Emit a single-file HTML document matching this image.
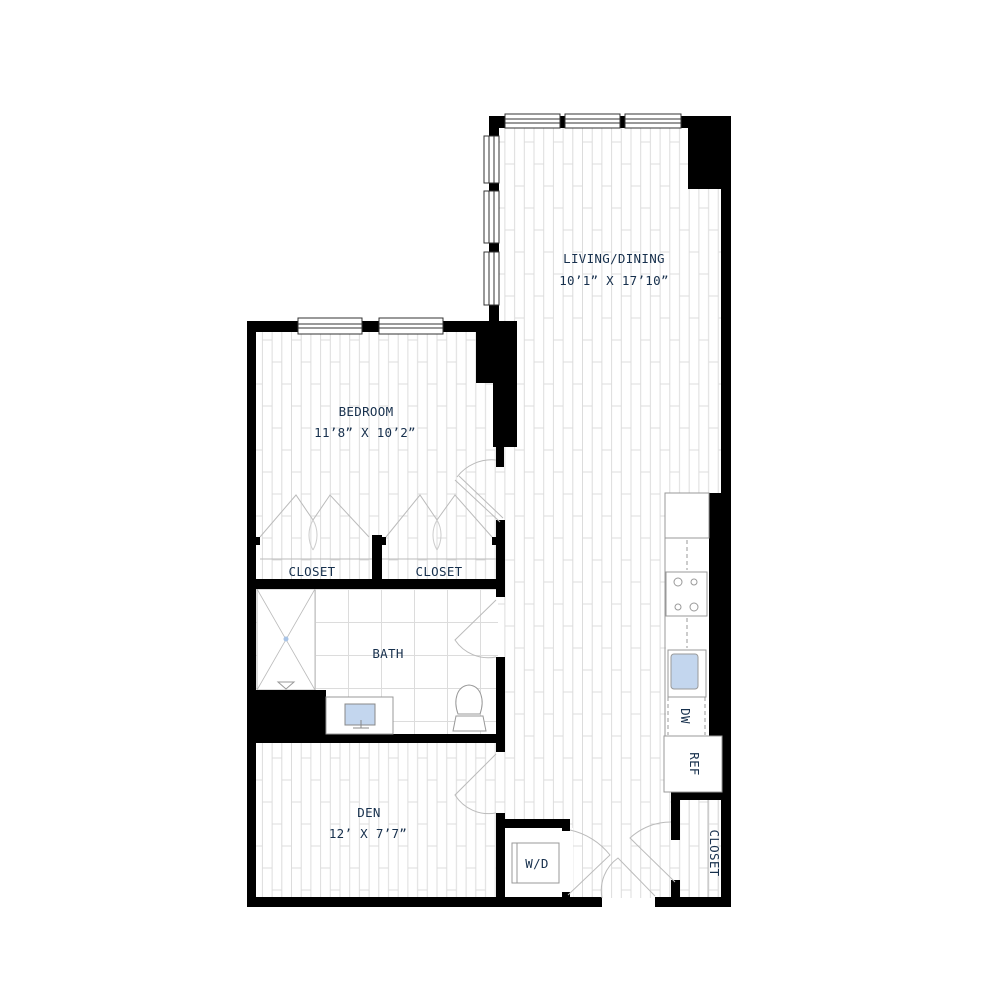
<!DOCTYPE html>
<html><head><meta charset="utf-8"><style>
html,body{margin:0;padding:0;background:#fff;}
svg{display:block}
text{font-family:"DejaVu Sans Mono","Liberation Mono",monospace;fill:#17304d;font-size:12.5px;letter-spacing:0.3px}
</style></head><body>
<svg width="1000" height="1000" viewBox="0 0 1000 1000" xmlns="http://www.w3.org/2000/svg">
<defs>
<pattern id="wood" width="29.1" height="66" patternUnits="userSpaceOnUse">
<g stroke="#dcdcdc" stroke-width="1" fill="none">
<line x1="0.5" y1="0" x2="0.5" y2="66"/>
<line x1="10.2" y1="0" x2="10.2" y2="66"/>
<line x1="19.9" y1="0" x2="19.9" y2="66"/>
<line x1="0.5" y1="10" x2="10.2" y2="10"/>
<line x1="10.2" y1="32" x2="19.9" y2="32"/>
<line x1="19.9" y1="54" x2="29.1" y2="54"/>
</g>
</pattern>
<pattern id="tile" width="33" height="33" patternUnits="userSpaceOnUse" x="315" y="589">
<path d="M0.5 0V33M0 0.5H33" stroke="#dcdcdc" fill="none"/>
</pattern>
</defs>

<rect x="498" y="128" width="223" height="770" fill="url(#wood)"/>
<rect x="256" y="331" width="242" height="258" fill="url(#wood)"/>
<rect x="256" y="743" width="242" height="155" fill="url(#wood)"/>
<rect x="505" y="828" width="68" height="70" fill="#fff"/>
<rect x="680" y="800" width="41" height="98" fill="url(#wood)"/>
<rect x="256" y="589" width="242" height="146" fill="url(#tile)"/>
<rect x="257" y="589" width="58" height="101" fill="#fff" stroke="#bbb"/>
<path d="M257 589L315 690M315 589L257 690" stroke="#bbb" stroke-width="0.8"/>
<circle cx="286" cy="639" r="2.5" fill="#a9c4e6"/>
<path d="M278 682h16l-8 7z" fill="none" stroke="#999"/>
<rect x="666" y="493" width="43" height="243" fill="#fff"/>

<g fill="#000">
<rect x="489" y="116" width="242" height="12"/>
<rect x="489" y="116" width="10" height="210"/>
<rect x="688" y="116" width="43" height="73"/>
<rect x="721" y="116" width="10" height="791"/>
<rect x="247" y="321" width="270" height="11"/>
<rect x="247" y="321" width="9" height="586"/>
<rect x="476" y="321" width="41" height="62"/>
<rect x="493" y="321" width="24" height="126"/>
<rect x="496" y="447" width="8" height="20"/>
<rect x="496" y="520" width="9" height="77"/>
<rect x="247" y="579" width="258" height="10"/>
<rect x="372" y="535" width="10" height="45"/>
<rect x="247" y="537" width="13" height="8"/>
<rect x="372" y="537" width="14" height="8"/>
<rect x="492" y="537" width="13" height="8"/>
<rect x="496" y="657" width="9" height="95"/>
<rect x="247" y="690" width="79" height="53"/>
<rect x="247" y="734" width="258" height="9"/>
<rect x="496" y="813" width="9" height="94"/>
<rect x="247" y="897" width="355" height="10"/>
<rect x="655" y="897" width="76" height="10"/>
<rect x="505" y="819" width="65" height="9"/>
<rect x="562" y="819" width="8" height="12"/>
<rect x="562" y="892" width="8" height="8"/>
<rect x="709" y="493" width="12" height="243"/>
<rect x="671" y="792" width="60" height="8"/>
<rect x="671" y="792" width="9" height="48"/>
<rect x="671" y="880" width="9" height="27"/>
</g>

<g fill="#fff" stroke="#333" stroke-width="1">
<rect x="505" y="114" width="55" height="14"/><line x1="505" y1="119" x2="560" y2="119"/><line x1="505" y1="123" x2="560" y2="123"/>
<rect x="565" y="114" width="55" height="14"/><line x1="565" y1="119" x2="620" y2="119"/><line x1="565" y1="123" x2="620" y2="123"/>
<rect x="625" y="114" width="56" height="14"/><line x1="625" y1="119" x2="681" y2="119"/><line x1="625" y1="123" x2="681" y2="123"/>
<rect x="484" y="136" width="15" height="47"/><line x1="489" y1="136" x2="489" y2="183"/><line x1="494" y1="136" x2="494" y2="183"/>
<rect x="484" y="191" width="15" height="52"/><line x1="489" y1="191" x2="489" y2="243"/><line x1="494" y1="191" x2="494" y2="243"/>
<rect x="484" y="252" width="15" height="53"/><line x1="489" y1="252" x2="489" y2="305"/><line x1="494" y1="252" x2="494" y2="305"/>
<rect x="298" y="318" width="64" height="16"/><line x1="298" y1="324" x2="362" y2="324"/><line x1="298" y1="328" x2="362" y2="328"/>
<rect x="379" y="318" width="64" height="16"/><line x1="379" y1="324" x2="443" y2="324"/><line x1="379" y1="328" x2="443" y2="328"/>
</g>

<g fill="none" stroke="#bbb" stroke-width="1">
<path d="M457 477A44 44 0 0 1 496 460"/><path d="M455 480L500 522M459 476L503 518"/>
<path d="M260 537L296 495L313 520M313 520L330 495L369 537"/>
<path d="M313 520A30 30 0 0 1 313 550M313 520A30 30 0 0 0 313 550" stroke="#ccc"/>
<path d="M386 537L420 495L437 520M437 520L455 495L492 537"/>
<path d="M437 520A30 30 0 0 1 437 550M437 520A30 30 0 0 0 437 550" stroke="#ccc"/>
<path d="M496 600L455 640A40 40 0 0 0 496 657"/>
<path d="M496 754L455 795A40 40 0 0 0 496 813"/>
<path d="M570 830A70 70 0 0 1 610 855L568 895"/>
<path d="M602 898A40 40 0 0 1 618 858L655 896"/>
<path d="M671 822A60 60 0 0 0 630 838L675 882"/>
<line x1="260" y1="559" x2="372" y2="559"/><line x1="382" y1="559" x2="496" y2="559"/>
<line x1="708" y1="800" x2="708" y2="897"/>
</g>

<rect x="326" y="697" width="67" height="37" fill="#fff" stroke="#999"/>
<rect x="345" y="704" width="30" height="21" fill="#c3d6ee" stroke="#888"/>
<path d="M353 728h16M361 720v8" stroke="#888" fill="none"/>
<path d="M453 731l3-15h27l3 15z" fill="#fff" stroke="#999"/>
<path d="M458 714C453 700 457 686 469 685C481 686 485 700 480 714z" fill="#fff" stroke="#999"/>

<g fill="#fff" stroke="#999">
<rect x="665" y="493" width="44" height="45"/>
<line x1="665" y1="538" x2="665" y2="736"/>
<rect x="666" y="572" width="41" height="44"/>
<circle cx="678" cy="582" r="4"/><circle cx="694" cy="582" r="3"/><circle cx="678" cy="607" r="3"/><circle cx="694" cy="607" r="4"/>
<rect x="668" y="650" width="38" height="47"/>
<rect x="671" y="654" width="27" height="35" rx="3" fill="#c3d6ee"/>
<rect x="664" y="736" width="58" height="56"/>
</g>
<path d="M687 540V570M687 618V648M668 697v38M705 697v38M668 697h37" stroke="#999" stroke-dasharray="4,3" fill="none"/>
<rect x="512" y="843" width="47" height="40" fill="#fff" stroke="#999"/>
<line x1="517" y1="843" x2="517" y2="883" stroke="#999"/>

<text x="614" y="263" text-anchor="middle">LIVING/DINING</text>
<text x="614" y="285" text-anchor="middle">10’1” X 17’10”</text>
<text x="366" y="416" text-anchor="middle">BEDROOM</text>
<text x="365" y="437" text-anchor="middle">11’8” X 10’2”</text>
<text x="312" y="576" text-anchor="middle">CLOSET</text>
<text x="439" y="576" text-anchor="middle">CLOSET</text>
<text x="388" y="658" text-anchor="middle">BATH</text>
<text x="369" y="817" text-anchor="middle">DEN</text>
<text x="368" y="838" text-anchor="middle">12’ X 7’7”</text>
<text x="537" y="868" text-anchor="middle">W/D</text>
<text transform="translate(681,716) rotate(90)" text-anchor="middle">DW</text>
<text transform="translate(690,764) rotate(90)" text-anchor="middle">REF</text>
<text transform="translate(710,853) rotate(90)" text-anchor="middle">CLOSET</text>
</svg>
</body></html>
